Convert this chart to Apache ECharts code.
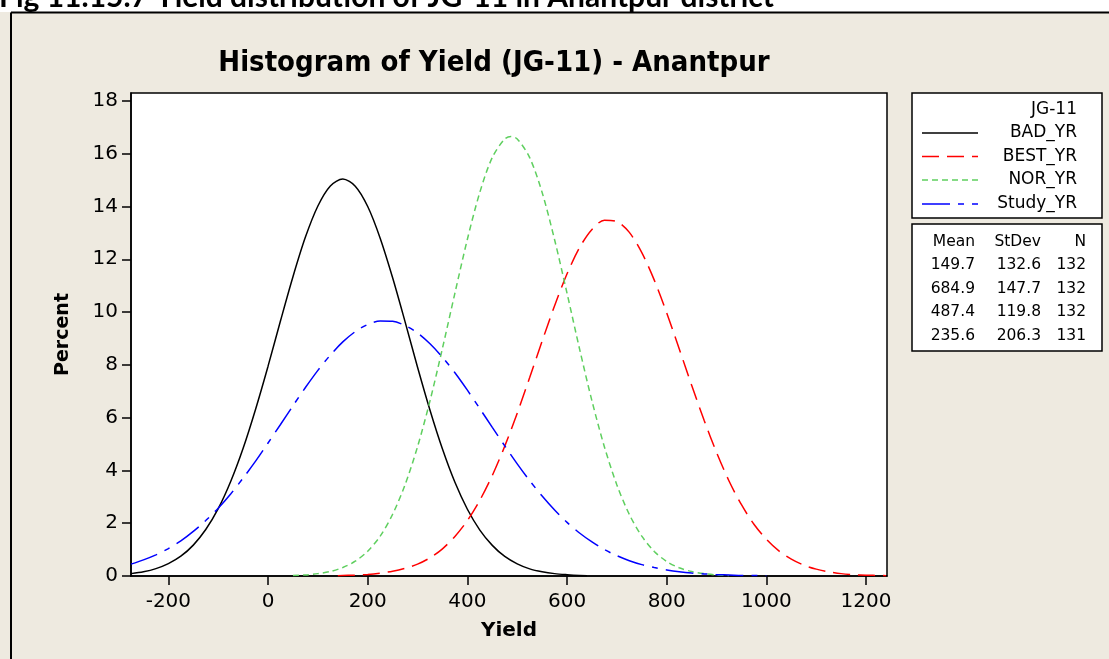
<!DOCTYPE html>
<html>
<head>
<meta charset="utf-8">
<title>Histogram of Yield (JG-11) - Anantpur</title>
<script src="https://cdn.jsdelivr.net/npm/echarts@6/dist/echarts.min.js"></script>
<style>
  html, body { margin: 0; padding: 0; background: #ffffff; }
  #chart { width: 1109px; height: 659px; }
</style>
</head>
<body>
<div id="chart"></div>
<script>
// Fitted normal curves of yield (percent per 50-unit class), one per season type
const badYield = [-275,-250,-225,-200,-175,-150,-125,-100,-75,-50,-25,0,25,50,75,100,125,150,175,200,225,250,275,300,325,350,375,400,425,450,475,500,525,550,575,600,625,640];
const badPct   = [0.09,0.16,0.28,0.47,0.75,1.17,1.76,2.55,3.58,4.84,6.32,7.95,9.67,11.34,12.84,14.02,14.78,15.04,14.77,14.00,12.80,11.30,9.63,7.91,6.28,4.81,3.55,2.53,1.74,1.16,0.74,0.46,0.27,0.16,0.09,0.05,0.02,0.01];

const bestYield = [140,150,175,200,225,250,275,300,325,350,375,400,425,450,475,500,525,550,575,600,625,650,675,700,725,750,775,800,825,850,875,900,925,950,975,1000,1025,1050,1075,1100,1125,1150,1175,1200,1225,1240];
const bestPct   = [0.01,0.02,0.03,0.06,0.11,0.18,0.29,0.45,0.69,1.03,1.50,2.10,2.87,3.81,4.92,6.17,7.52,8.90,10.24,11.45,12.44,13.13,13.48,13.43,13.02,12.25,11.21,9.97,8.61,7.23,5.90,4.68,3.60,2.70,1.96,1.39,0.95,0.64,0.41,0.26,0.16,0.09,0.05,0.03,0.02,0.01];

const norYield = [50,75,100,125,150,175,200,225,250,275,300,325,350,375,400,425,450,475,487.5,500,525,550,575,600,625,650,675,700,725,750,775,800,825,850,875,900,925];
const norPct   = [0.02,0.04,0.09,0.17,0.32,0.56,0.94,1.51,2.34,3.46,4.90,6.64,8.63,10.72,12.76,14.54,15.86,16.56,16.65,16.56,15.85,14.53,12.74,10.71,8.61,6.63,4.89,3.45,2.33,1.51,0.93,0.55,0.31,0.17,0.09,0.04,0.02];

const studyYield = [-275,-250,-225,-200,-175,-150,-125,-100,-75,-50,-25,0,25,50,75,100,125,150,175,200,225,250,275,300,325,350,375,400,425,450,475,500,525,550,575,600,625,650,675,700,725,750,775,800,825,850,875,900,925,950,975,1000];
const studyPct   = [0.45,0.61,0.80,1.04,1.33,1.69,2.10,2.57,3.11,3.71,4.35,5.04,5.74,6.45,7.14,7.79,8.37,8.87,9.26,9.53,9.66,9.65,9.49,9.21,8.80,8.29,7.70,7.04,6.34,5.63,4.93,4.25,3.61,3.03,2.50,2.03,1.63,1.29,1.00,0.77,0.58,0.43,0.32,0.23,0.16,0.11,0.08,0.05,0.04,0.02,0.02,0.01];

// Summary statistics shown beside the plot
const seriesNames = ['BAD_YR', 'BEST_YR', 'NOR_YR', 'Study_YR'];
const statMean  = ['149.7', '684.9', '487.4', '235.6'];
const statStDev = ['132.6', '147.7', '119.8', '206.3'];
const statN     = ['132', '132', '132', '131'];

// Axis ticks
const xTicks = [-200, 0, 200, 400, 600, 800, 1000, 1200];
const yTicks = [0, 2, 4, 6, 8, 10, 12, 14, 16, 18];

const FONT = '"DejaVu Sans", Verdana, sans-serif';
const TITLE_FONT = '"DejaVu Sans Condensed", "DejaVu Sans", sans-serif';

const curveStyles = [
  { color: '#000000', type: 'solid' },
  { color: '#ff0000', type: [17, 8] },
  { color: '#5fcf5f', type: [6, 4] },
  { color: '#0000ff', type: [28, 8, 6, 8] }
];

const curves = [
  [badYield, badPct],
  [bestYield, bestPct],
  [norYield, norPct],
  [studyYield, studyPct]
];

const series = curves.map(function (c, i) {
  return {
    name: seriesNames[i],
    type: 'line',
    data: c[0].map(function (x, k) { return [x, c[1][k]]; }),
    showSymbol: false,
    smooth: 0.3,
    clip: true,
    lineStyle: { color: curveStyles[i].color, width: 1.5, type: curveStyles[i].type },
    itemStyle: { color: curveStyles[i].color },
    z: 3
  };
});

const graphics = [];
// white strip with the caption above the framed panel
graphics.push({ type: 'rect', shape: { x: 0, y: 0, width: 1109, height: 12 }, style: { fill: '#ffffff' }, silent: true });
graphics.push({
  type: 'text', x: -1, y: -3,
  style: { text: 'Fig 11.15.7 Yield distribution of JG-11 in Anantpur district', font: 'bold 30px Lato, sans-serif', fill: '#000', verticalAlign: 'middle', align: 'left' },
  silent: true
});
// panel frame
graphics.push({ type: 'line', shape: { x1: 11, y1: 12.5, x2: 1109, y2: 12.5 }, style: { stroke: '#000', lineWidth: 2 }, silent: true });
graphics.push({ type: 'line', shape: { x1: 11, y1: 12.5, x2: 11, y2: 659 }, style: { stroke: '#000', lineWidth: 2 }, silent: true });

// legend box
const LEG_FONT = '17px ' + FONT;
const STAT_FONT = '15.5px ' + FONT;
graphics.push({ type: 'rect', shape: { x: 912, y: 93, width: 190, height: 125 }, style: { fill: '#ffffff', stroke: '#000', lineWidth: 1.5 }, silent: true });
graphics.push({ type: 'text', x: 1077, y: 110, style: { text: 'JG-11', font: LEG_FONT, fill: '#000', align: 'right', verticalAlign: 'middle' }, silent: true });
const legendRows = [133, 156.5, 180, 204];
seriesNames.forEach(function (name, i) {
  graphics.push({
    type: 'line', shape: { x1: 922, y1: legendRows[i], x2: 978, y2: legendRows[i] },
    style: { stroke: curveStyles[i].color, lineWidth: 1.5, lineDash: curveStyles[i].type === 'solid' ? null : curveStyles[i].type },
    silent: true
  });
  graphics.push({ type: 'text', x: 1077, y: legendRows[i], style: { text: name, font: LEG_FONT, fill: '#000', align: 'right', verticalAlign: 'middle' }, silent: true });
});

// statistics box
graphics.push({ type: 'rect', shape: { x: 912, y: 224, width: 190, height: 127 }, style: { fill: '#ffffff', stroke: '#000', lineWidth: 1.5 }, silent: true });
const statCols = [975, 1041, 1086];
const statHeader = ['Mean', 'StDev', 'N'];
statHeader.forEach(function (h, j) {
  graphics.push({ type: 'text', x: statCols[j], y: 241.5, style: { text: h, font: STAT_FONT, fill: '#000', align: 'right', verticalAlign: 'middle' }, silent: true });
});
const statRows = [265, 288.5, 312, 335.5];
for (let i = 0; i < statMean.length; i++) {
  [statMean[i], statStDev[i], statN[i]].forEach(function (v, j) {
    graphics.push({ type: 'text', x: statCols[j], y: statRows[i], style: { text: v, font: STAT_FONT, fill: '#000', align: 'right', verticalAlign: 'middle' }, silent: true });
  });
}

const chart = echarts.init(document.getElementById('chart'), null, { renderer: 'canvas' });
chart.setOption({
  backgroundColor: '#eeeae0',
  animation: false,
  title: {
    text: 'Histogram of Yield (JG-11) - Anantpur',
    left: 489, top: 44, textAlign: 'center',
    textStyle: { fontFamily: TITLE_FONT, fontWeight: 'bold', fontSize: 29, color: '#000' }
  },
  grid: {
    left: 131, right: 222, top: 93, bottom: 83,
    show: true, backgroundColor: '#ffffff', borderColor: '#000', borderWidth: 1.5
  },
  xAxis: {
    type: 'value', min: -275, max: 1242,
    name: 'Yield', nameLocation: 'middle', nameGap: 45,
    nameTextStyle: { fontFamily: FONT, fontWeight: 'bold', fontSize: 20, color: '#000' },
    axisLine: { show: true, onZero: false, lineStyle: { color: '#000', width: 1.5 } },
    axisTick: { show: true, length: 9, lineStyle: { color: '#000', width: 1.5 }, customValues: xTicks },
    axisLabel: { fontFamily: FONT, fontSize: 20, color: '#000', margin: 16, customValues: xTicks,
      formatter: function (v) { return String(v); } },
    splitLine: { show: false }
  },
  yAxis: {
    type: 'value', min: 0, max: 18.3,
    name: 'Percent', nameLocation: 'middle', nameGap: 58, nameRotate: 90,
    nameTextStyle: { fontFamily: FONT, fontWeight: 'bold', fontSize: 19, color: '#000' },
    axisLine: { show: true, onZero: false, lineStyle: { color: '#000', width: 1.5 } },
    axisTick: { show: true, length: 9, lineStyle: { color: '#000', width: 1.5 }, customValues: yTicks },
    axisLabel: { fontFamily: FONT, fontSize: 20, color: '#000', margin: 13, customValues: yTicks,
      formatter: function (v) { return String(v); } },
    splitLine: { show: false }
  },
  series: series,
  graphic: { elements: graphics }
});
</script>
</body>
</html>
